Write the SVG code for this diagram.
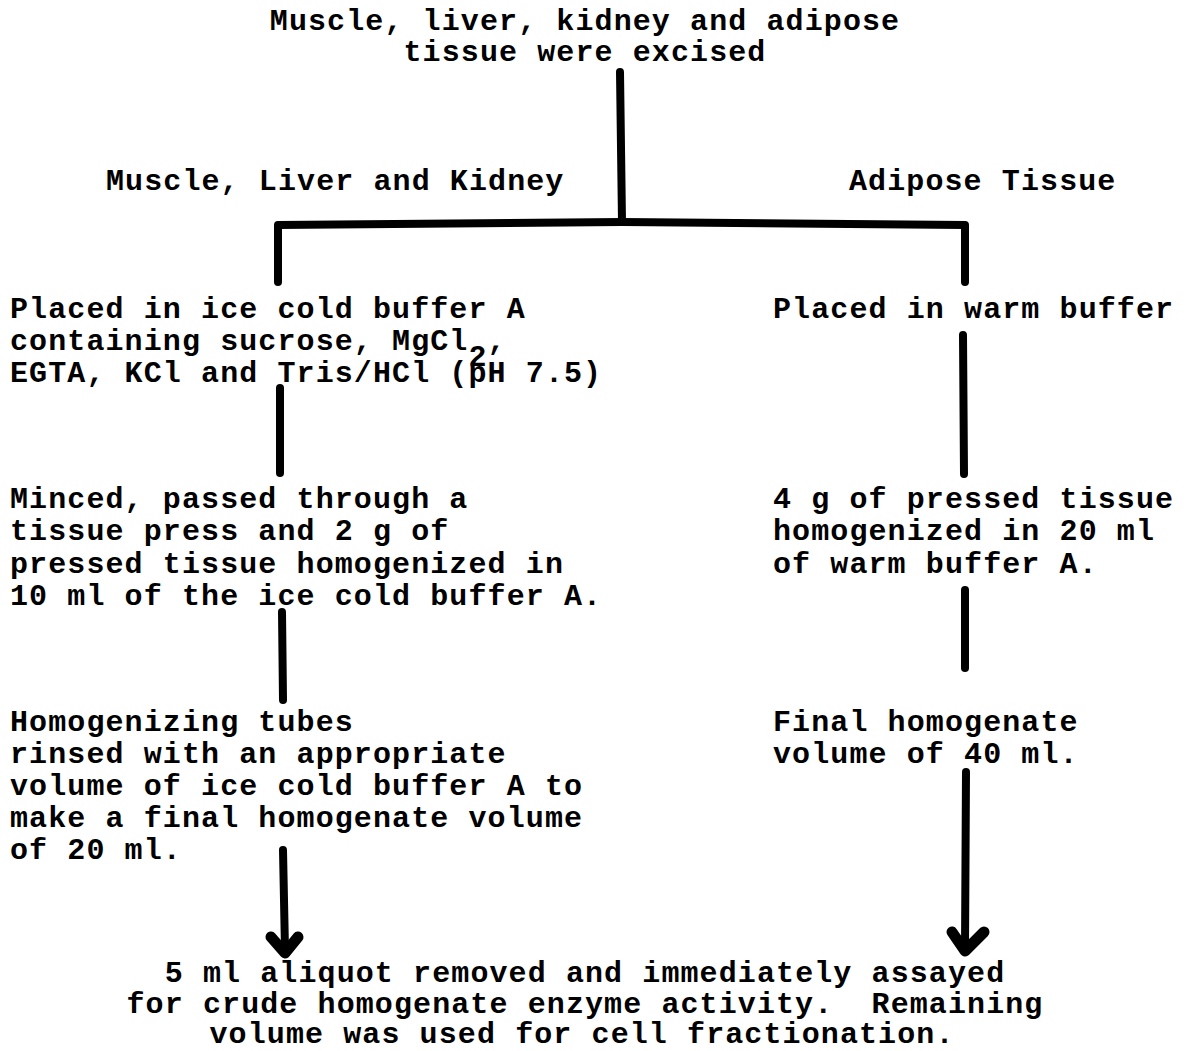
<svg xmlns="http://www.w3.org/2000/svg" width="1185" height="1051" viewBox="0 0 1185 1051">
<style>
text{font-family:"Liberation Mono","Courier New",monospace;font-weight:bold;font-size:30px;letter-spacing:1.1px;fill:#000;white-space:pre}
.c{text-anchor:middle}
.ln{fill:none;stroke:#000;stroke-width:8;stroke-linecap:round;stroke-linejoin:round}
.ah{fill:none;stroke:#000;stroke-width:11;stroke-linecap:round;stroke-linejoin:round}
</style>
<rect width="1185" height="1051" fill="#fff"/>
<g id="n-excised">
<text class="c" x="585" y="30">Muscle, liver, kidney and adipose</text>
<text class="c" x="585" y="61">tissue were excised</text>
</g>
<g id="n-mlk"><text x="106" y="190">Muscle, Liver and Kidney</text></g>
<g id="n-adipose"><text x="849" y="190">Adipose Tissue</text></g>
<g id="n-bufferA">
<text x="10" y="318">Placed in ice cold buffer A</text>
<text x="10" y="350">containing sucrose, MgCl<tspan dy="16">2</tspan><tspan dy="-16">,</tspan></text>
<text x="10" y="382">EGTA, KCl and Tris/HCl (pH 7.5)</text>
</g>
<g id="n-warm"><text x="773" y="318">Placed in warm buffer</text></g>
<g id="n-minced">
<text x="10" y="508">Minced, passed through a</text>
<text x="10" y="540">tissue press and 2 g of</text>
<text x="10" y="573">pressed tissue homogenized in</text>
<text x="10" y="605">10 ml of the ice cold buffer A.</text>
</g>
<g id="n-4g">
<text x="773" y="508">4 g of pressed tissue</text>
<text x="773" y="540">homogenized in 20 ml</text>
<text x="773" y="573">of warm buffer A.</text>
</g>
<g id="n-tubes">
<text x="10" y="731">Homogenizing tubes</text>
<text x="10" y="763">rinsed with an appropriate</text>
<text x="10" y="795">volume of ice cold buffer A to</text>
<text x="10" y="827">make a final homogenate volume</text>
<text x="10" y="859">of 20 ml.</text>
</g>
<g id="n-final">
<text x="773" y="731">Final homogenate</text>
<text x="773" y="763">volume of 40 ml.</text>
</g>
<g id="n-aliquot">
<text class="c" x="585" y="982">5 ml aliquot removed and immediately assayed</text>
<text class="c" x="585" y="1013">for crude homogenate enzyme activity.  Remaining</text>
<text class="c" x="582" y="1043">volume was used for cell fractionation.</text>
</g>
<g id="connectors">
<path class="ln" d="M620 72 L622 222"/>
<path class="ln" d="M278 282 L278 225 L622 222 L965 225 L965 282"/>
<path class="ln" d="M280 388 L280 473"/>
<path class="ln" d="M963 335 L964 474"/>
<path class="ln" d="M282 612 L283 700"/>
<path class="ln" d="M965 590 L965 668"/>
<path class="ln" d="M283 850 L285 950"/>
<path class="ah" d="M271 937 L285 953 L298 937"/>
<path class="ln" d="M966 772 L965 948"/>
<path class="ah" d="M952 932 L965 951 L984 932"/>
</g>
</svg>
